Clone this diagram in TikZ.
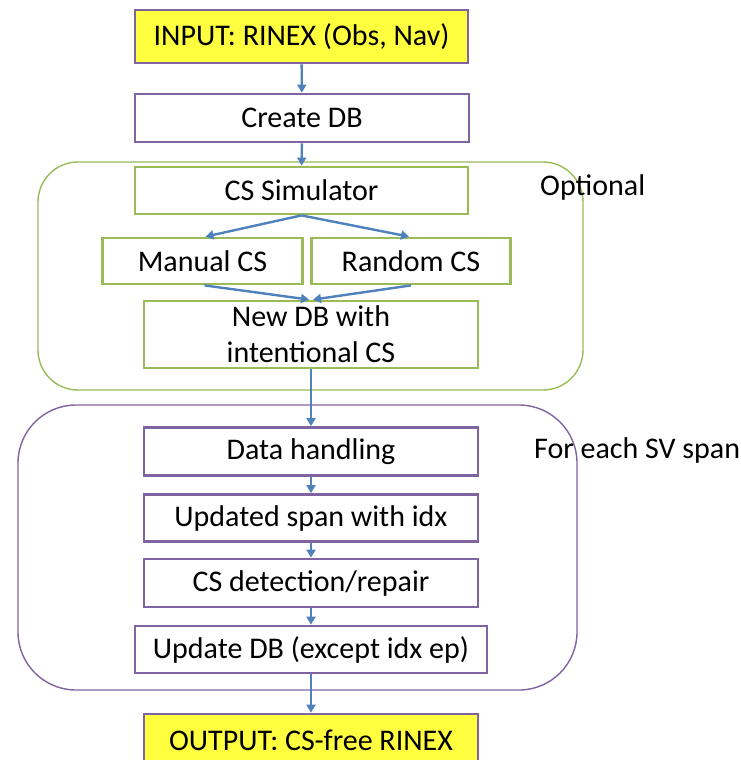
\documentclass[tikz,border=0pt]{standalone}
\usepackage{fontspec}
\setmainfont{Carlito}
\usetikzlibrary{arrows.meta,calc}
\definecolor{boxpurple}{HTML}{8064A2}
\definecolor{boxgreen}{HTML}{9BBB59}
\definecolor{arrowblue}{HTML}{4F81BD}
\definecolor{ioyellow}{HTML}{FFFF40}
\tikzset{
  base/.style={rectangle, line width=2.8pt, align=center, inner sep=0pt,
    font=\fontsize{30}{36}\selectfont},
  pbox/.style={base, draw=boxpurple, fill=white},
  gbox/.style={base, draw=boxgreen, fill=white},
  iobox/.style={base, draw=boxpurple, fill=ioyellow},
  flow/.style={draw=arrowblue, line width=2.4pt, -{Triangle[width=9pt,length=8pt]}},
  container/.style={line width=1.4pt},
  lbl/.style={anchor=west, inner sep=0pt, font=\fontsize{30}{36}\selectfont}
}
\begin{document}
\begin{tikzpicture}[x=1pt,y=-1pt]
\clip (0,0) rectangle (741,760);
\fill[white] (0,0) rectangle (741,760);
% containers
\draw[container, draw=boxgreen, rounded corners=40pt] (38,162) rectangle (583,390);
\draw[container, draw=boxpurple, rounded corners=58pt] (18,405) rectangle (577,690);
% nodes
\node[iobox, minimum width=333pt, minimum height=53pt] (in) at (301.5,36.5) {INPUT: RINEX (Obs, Nav)};
\node[pbox, minimum width=334pt, minimum height=48pt] (create) at (302,118) {Create DB};
\node[gbox, minimum width=333pt, minimum height=47pt] (sim) at (301.5,190.5) {CS Simulator};
\node[gbox, minimum width=200pt, minimum height=46pt] (manual) at (202.5,261) {Manual CS};
\node[gbox, minimum width=199pt, minimum height=46pt] (random) at (411,261) {Random CS};
\node[gbox, minimum width=334pt, minimum height=67pt] (newdb) at (311,334.5) {New DB with\\intentional CS};
\node[pbox, minimum width=334pt, minimum height=48pt] (data) at (311,451.5) {Data handling};
\node[pbox, minimum width=334pt, minimum height=47pt] (upd) at (311,518) {Updated span with idx};
\node[pbox, minimum width=334pt, minimum height=48pt] (det) at (311,583) {CS detection/repair};
\node[pbox, minimum width=352pt, minimum height=47pt] (updb) at (311,649.5) {Update DB (except idx ep)};
\node[iobox, minimum width=334pt, minimum height=52pt] (out) at (311,740) {OUTPUT: CS-free RINEX};
% labels
\node[lbl] (optional) at (540,188) {Optional};
\node[lbl] (foreach) at (534,450) {For each SV span};
% connectors
\draw[flow] (in) -- (create);
\draw[flow] (create) -- (sim);
\draw[flow] (sim.south) -- ($(manual.north)+(3,0)$);
\draw[flow] (sim.south) -- ($(random.north)+(-2,0)$);
\draw[flow] ($(manual.south)+(2,0)$) -- ($(newdb.north)+(-2,0)$);
\draw[flow] (random.south) -- ($(newdb.north)+(2,0)$);
\draw[flow] (newdb) -- (data);
\draw[flow] (data) -- (upd);
\draw[flow] (upd) -- (det);
\draw[flow] (det) -- (updb);
\draw[flow] (updb) -- (out);
\end{tikzpicture}
\end{document}
